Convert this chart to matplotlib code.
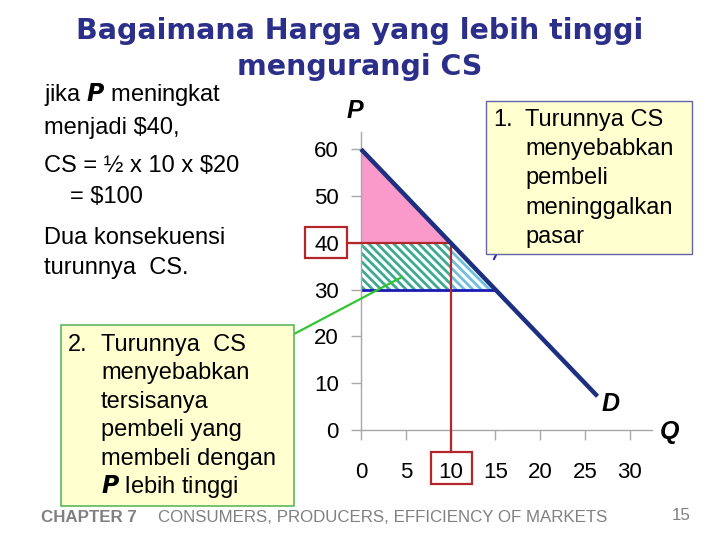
import matplotlib
matplotlib.use("Agg")
import matplotlib.pyplot as plt
from matplotlib.patches import Rectangle, Polygon
from matplotlib.lines import Line2D

plt.rcParams['hatch.linewidth'] = 2.0

# ---- data ----
demand_q = [0, 26.4]
demand_p = [60, 7.2]
new_price = 40
new_qty = 10
old_price = 30
old_qty = 15
choke_price = 60
x_ticks = [0, 5, 10, 15, 20, 25, 30]
y_ticks = [0, 10, 20, 30, 40, 50, 60]

W, H = 720, 540
fig = plt.figure(figsize=(7.2, 5.4), dpi=100)
fig.patch.set_facecolor('white')

def fx(x):
    return x / W

def fy(y):
    return 1 - y / H

# data axes placed in pixel terms
ax_left, ax_right, ax_bottom, ax_top = 361, 652, 430, 132
ax = fig.add_axes([fx(ax_left), fy(ax_bottom), (ax_right - ax_left) / W, (ax_bottom - ax_top) / H])
ax.set_xlim(0, (ax_right - ax_left) / 8.96)
ax.set_ylim(0, (ax_bottom - ax_top) / 4.68)
ax.patch.set_alpha(0)
for s in ['top', 'right']:
    ax.spines[s].set_visible(False)
for s in ['left', 'bottom']:
    ax.spines[s].set_color('#a8a8a8')
    ax.spines[s].set_linewidth(1.0)
ax.set_xticks(x_ticks)
ax.set_yticks(y_ticks)
ax.tick_params(axis='both', colors='#a8a8a8', labelcolor='black', labelsize=16, length=7, width=1.0, direction='out')
ax.tick_params(axis='x', pad=16)
ax.tick_params(axis='y', pad=9)
for lab in ax.get_xticklabels() + ax.get_yticklabels():
    lab.set_family('Liberation Sans')

# pink consumer surplus triangle
ax.add_patch(Polygon([(0, choke_price), (0, new_price), (new_qty, new_price)], closed=True,
                     facecolor='#f99acb', edgecolor='none', zorder=1))
# hatched rectangle (transfer)
ax.add_patch(Rectangle((0, old_price), new_qty, new_price - old_price, facecolor='white',
                       edgecolor='#3dab94', linewidth=0, hatch='\\\\\\\\', zorder=1))
# hatched small triangle (lost)
ax.add_patch(Polygon([(new_qty, new_price), (new_qty, old_price), (old_qty, old_price)], closed=True,
                     facecolor='white', edgecolor='#6cc0dc', linewidth=0, hatch='\\\\\\\\', zorder=1))
# old price line
ax.plot([0, old_qty], [old_price, old_price], color='#1a1ab8', lw=2, zorder=2)
# red guides
ax.plot([-1.56, new_qty], [new_price, new_price], color='#b5262c', lw=1.6, zorder=3, clip_on=False)
ax.plot([new_qty, new_qty], [new_price, -4.7], color='#b5262c', lw=1.6, zorder=3, clip_on=False)
# demand curve
ax.plot(demand_q, demand_p, color='#1c2f80', lw=3.2, solid_capstyle='butt', zorder=4, clip_on=False)

# overlay axes for annotations in pixel coordinates
ov = fig.add_axes([0, 0, 1, 1])
ov.set_xlim(0, W)
ov.set_ylim(H, 0)
ov.axis('off')
ov.patch.set_alpha(0)

red = '#b5262c'
ov.add_patch(Rectangle((305, 227), 42, 31, fill=False, edgecolor=red, lw=1.6))
ov.add_patch(Rectangle((431, 452), 41, 32, fill=False, edgecolor=red, lw=1.6))

# title
ov.text(360, 31, 'Bagaimana Harga yang lebih tinggi', ha='center', va='center',
        fontsize=20.5, fontweight='bold', color='#2b2f8a', family='DejaVu Sans')
ov.text(360, 67, 'mengurangi CS', ha='center', va='center',
        fontsize=20.5, fontweight='bold', color='#2b2f8a', family='DejaVu Sans')

# left texts
tf = dict(fontsize=17, family='Liberation Sans', va='center', ha='left', color='black')
ov.text(44, 95, 'jika $\\boldsymbol{P}$ meningkat', **tf)
ov.text(44, 128, 'menjadi $40,', **tf)
ov.text(44, 166, 'CS = ½ x 10 x $20', **tf)
ov.text(70, 197, '= $100', **tf)
ov.text(44, 238, 'Dua konsekuensi', **tf)
ov.text(44, 268, 'turunnya  CS.', **tf)

# axis letters
lf = dict(fontsize=18, fontweight='bold', style='italic', family='Liberation Sans', ha='center', va='center')
ov.text(355, 111, 'P', **lf)
ov.text(611, 404, 'D', **lf)
ov.text(670, 432, 'Q', **lf)

# box 1
ov.add_patch(Rectangle((486, 101), 206, 153, facecolor='#ffffcf', edgecolor='#6464a8', lw=1.0, zorder=5))
ov.add_line(Line2D([497, 494], [253, 259], color='#2a2ab0', lw=1.5, zorder=4))
b1 = ['Turunnya CS', 'menyebabkan', 'pembeli', 'meninggalkan', 'pasar']
ov.text(493, 120, '1.', zorder=6, **tf)
for i, s in enumerate(b1):
    ov.text(525, 120 + i * 29.2, s, zorder=6, **tf)

# box 2
ov.add_line(Line2D([294, 402], [334, 277], color='#33c633', lw=1.6, zorder=4))
ov.add_patch(Rectangle((61, 325), 233, 181, facecolor='#ffffcf', edgecolor='#5cb85c', lw=1.2, zorder=5))
b2 = ['Turunnya  CS', 'menyebabkan', 'tersisanya', 'pembeli yang', 'membeli dengan']
ov.text(68, 345, '2.', zorder=6, **tf)
for i, s in enumerate(b2):
    ov.text(101, 345 + i * 28.4, s, zorder=6, **tf)
ov.text(101, 345 + 5 * 28.4, '$\\boldsymbol{P}$ lebih tinggi', zorder=6, **tf)

# footer
ff = dict(fontsize=12.2, color='#808080', family='Liberation Sans', va='center')
ov.text(41, 517, 'CHAPTER 7', fontweight='bold', ha='left', **ff)
ov.text(158, 517, 'CONSUMERS, PRODUCERS, EFFICIENCY OF MARKETS', ha='left', **ff)
ov.text(681, 515, '15', ha='center', **ff)

fig.savefig('out.png', dpi=100)
